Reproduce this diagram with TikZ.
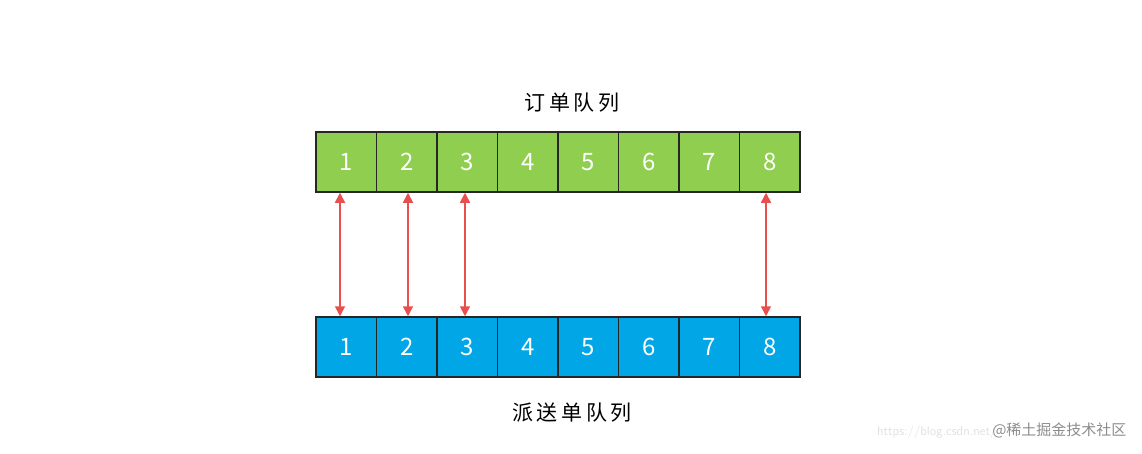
\documentclass[tikz,border=0pt]{standalone}
\usepackage{fontspec}
\newfontfamily\cjk{Noto Sans CJK SC}
\usetikzlibrary{arrows.meta}
\definecolor{gr}{HTML}{8FCE4F}
\definecolor{bl}{HTML}{00A6E6}
\definecolor{ar}{HTML}{E8504F}
\tikzset{cell/.style={draw=black!85,line width=1.5pt,minimum width=60.5pt,minimum height=60pt,inner sep=0pt,text=white,font=\cjk\fontsize{24}{24}\selectfont},
lnk/.style={draw=ar,line width=1.6pt,{Triangle[length=10pt,width=10pt]}-{Triangle[length=10pt,width=10pt]}},
ttl/.style={font=\cjk\fontsize{21}{21}\selectfont}}
\begin{document}
\begin{tikzpicture}[x=1pt,y=-1pt]
\useasboundingbox (0,0) rectangle (1142,453);
\foreach \i in {1,...,8}{
  \node[cell,fill=gr] (t\i) at ({316+60.5*(\i-0.5)},162) {\i};
  \node[cell,fill=bl] (b\i) at ({316+60.5*(\i-0.5)},347) {\i};
}
\node[ttl] (tt) at (572,103) {订\,单\,队\,列};
\node[ttl] (bt) at (572,413) {派\,送\,单\,队\,列};
\coordinate (a1) at (340,0); \coordinate (a2) at (408,0); \coordinate (a3) at (465,0); \coordinate (a8) at (766,0);
\foreach \i in {1,2,3,8}{
  \draw[lnk] (t\i.south -| a\i) -- (b\i.north -| a\i);
}
\node[font=\sffamily\fontsize{13}{13}\selectfont,text=black!12,anchor=east] (u) at (1000,432) {https://blog.csdn.net/};
\node[font=\cjk\fontsize{15}{15}\selectfont,text=black!45,anchor=east] (w) at (1130,430) {@稀土掘金技术社区};
\end{tikzpicture}
\end{document}
